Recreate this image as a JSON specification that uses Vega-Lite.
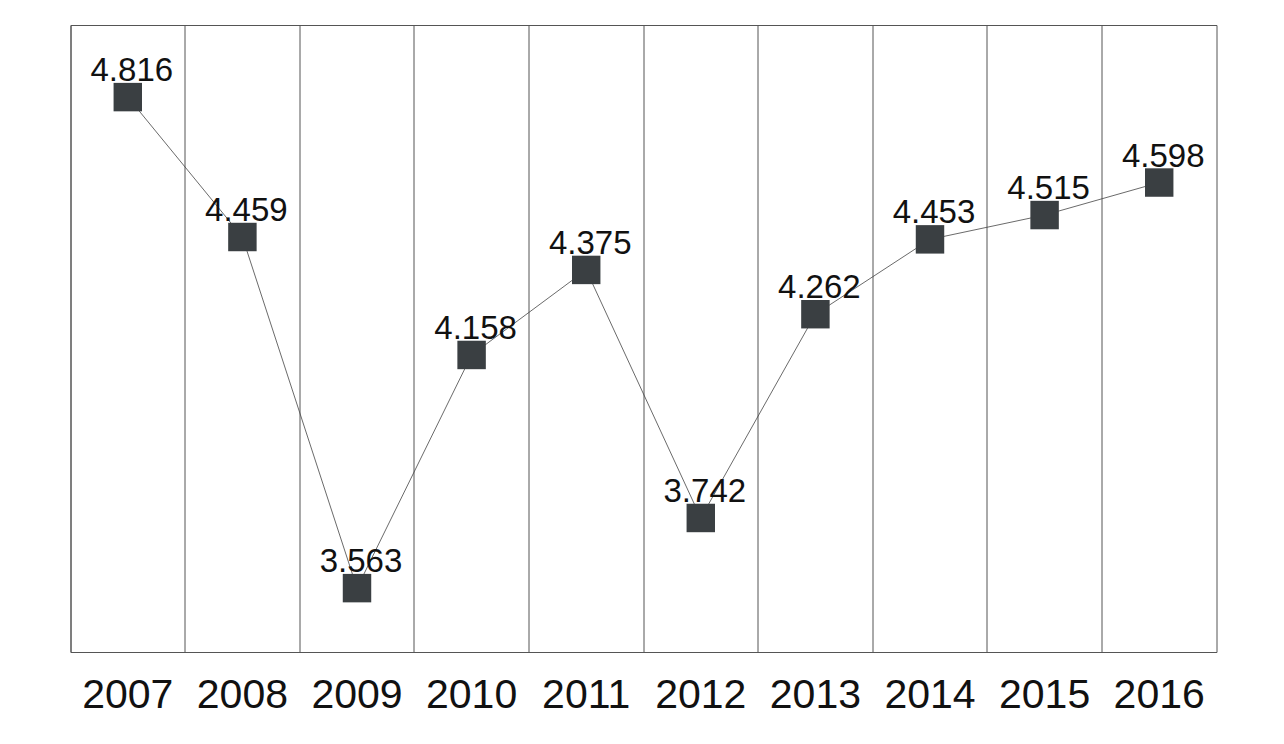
{
  "$schema": "https://vega.github.io/schema/vega-lite/v6.json",
  "width": 1146,
  "height": 627,
  "autosize": {"type": "none"},
  "padding": {"left": 70.5, "top": 25, "right": 67.5, "bottom": 92},
  "background": "white",
  "config": {
    "view": {"stroke": "#555555", "strokeWidth": 1},
    "font": "Liberation Sans"
  },
  "data": {
    "values": [
      {"year": "2007", "value": 4.816},
      {"year": "2008", "value": 4.459},
      {"year": "2009", "value": 3.563},
      {"year": "2010", "value": 4.158},
      {"year": "2011", "value": 4.375},
      {"year": "2012", "value": 3.742},
      {"year": "2013", "value": 4.262},
      {"year": "2014", "value": 4.453},
      {"year": "2015", "value": 4.515},
      {"year": "2016", "value": 4.598}
    ]
  },
  "encoding": {
    "x": {
      "field": "year",
      "type": "ordinal",
      "scale": {"type": "band", "paddingInner": 0, "paddingOuter": 0},
      "axis": {
        "title": null,
        "grid": true,
        "gridColor": "#555555",
        "gridWidth": 1,
        "gridOpacity": 1,
        "bandPosition": 0,
        "ticks": false,
        "tickSize": 0,
        "domain": false,
        "labelAngle": 0,
        "labelFontSize": 41,
        "labelColor": "#111111",
        "labelFont": "Liberation Sans",
        "labelBaseline": "alphabetic",
        "labelPadding": 55
      }
    },
    "y": {
      "field": "value",
      "type": "quantitative",
      "scale": {"domain": [3.4, 5.0], "nice": false, "zero": false},
      "axis": null
    }
  },
  "layer": [
    {
      "mark": {"type": "line", "color": "#444444", "strokeWidth": 0.8}
    },
    {
      "mark": {"type": "point", "shape": "square", "filled": true, "size": 810, "color": "#3a3f42", "opacity": 1}
    },
    {
      "mark": {"type": "text", "baseline": "alphabetic", "align": "center", "dy": -16, "dx": 4, "fontSize": 33, "color": "#111111", "font": "Liberation Sans"},
      "encoding": {
        "text": {"field": "value", "type": "quantitative", "format": ".3f"}
      }
    }
  ]
}
